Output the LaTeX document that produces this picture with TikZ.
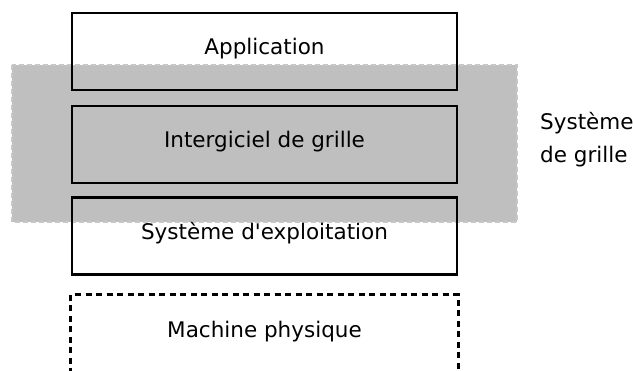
\documentclass[tikz,border=0pt]{standalone}
\usepackage{fontspec}
\setmainfont{DejaVu Sans}[Ligatures=TeXOff]
\begin{document}
\begin{tikzpicture}[x=1pt,y=-1pt,
  layer/.style={draw=black,line width=2.6pt,minimum width=385pt,minimum height=77pt,inner sep=0pt,text depth=10pt,text height=17pt,font=\fontsize{21.5}{26}\selectfont},
  grid/.style={fill=black!25,draw=black!22,line width=2.6pt,dash pattern=on 5pt off 3pt},
  lbl/.style={font=\fontsize{21.5}{33}\selectfont,align=left,anchor=west,inner sep=0pt}]
\clip (0,0) rectangle (633,371);
\fill[white] (0,0) rectangle (633,371);
\draw[grid] (12,65) rectangle (517,222);
\node[layer] (app) at (264.5,51.5) {Application};
\node[layer] (mid) at (264.5,144.5) {Intergiciel de grille};
\node[layer] (os) at (264.5,236) {Système d'exploitation};
\node[layer,draw=none] (hw) at (264.5,334.5) {Machine physique};
\draw[line width=2.8pt,dash pattern=on 6pt off 4.5pt] (hw.south west) -- (hw.north west) -- (hw.north east) -- (hw.south east);
\node[lbl] (sg) at (540,140) {Système\\de grille};
\end{tikzpicture}
\end{document}
